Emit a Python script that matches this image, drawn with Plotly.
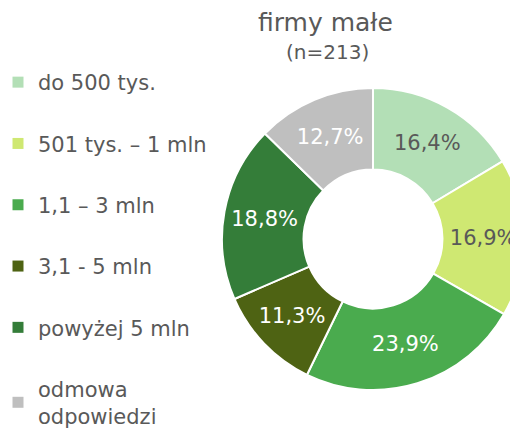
import plotly.graph_objects as go

categories = ["do 500 tys.", "501 tys. – 1 mln", "1,1 – 3 mln", "3,1 - 5 mln",
              "powyżej 5 mln", "odmowa<br>odpowiedzi"]
values = [16.4, 16.9, 23.9, 11.3, 18.8, 12.7]
colors = ["#b3dfb6", "#cfe872", "#4aab4e", "#4e6313", "#347d39", "#bfbfbf"]
text_colors = ["#595959", "#595959", "#ffffff", "#ffffff", "#ffffff", "#ffffff"]
title_main = "firmy małe"
title_sub = "(n=213)"

FONT = "DejaVu Sans"
W, H = 518, 432

fig = go.Figure()

fig.add_trace(go.Pie(
    labels=categories,
    values=values,
    sort=False,
    direction="clockwise",
    rotation=0,
    hole=0.46,
    marker=dict(colors=colors, line=dict(color="#ffffff", width=2)),
    texttemplate="%{percent:.1%}",
    textposition="inside",
    insidetextorientation="horizontal",
    textfont=dict(family=FONT, size=21, color=text_colors),
    showlegend=False,
    hoverinfo="skip",
    domain=dict(x=[214 / W, 516 / W], y=[(H - 382) / H, (H - 80) / H]),
))

for cat, col in zip(categories, colors):
    fig.add_trace(go.Scatter(
        x=[None], y=[None], mode="markers", name=cat,
        legendgroup=cat,
        marker=dict(symbol="square", size=11, color=col),
    ))

fig.add_annotation(text=title_main, x=317 / W, y=1 - 14 / H, xref="paper", yref="paper",
                   xanchor="center", yanchor="middle",
                   showarrow=False, font=dict(family=FONT, size=25, color="#595959"))
fig.add_annotation(text=title_sub, x=319 / W, y=1 - 44 / H, xref="paper", yref="paper",
                   xanchor="center", yanchor="middle",
                   showarrow=False, font=dict(family=FONT, size=20, color="#595959"))

fig.update_layout(
    width=W, height=H,
    margin=dict(l=0, r=0, t=0, b=0, autoexpand=False),
    paper_bgcolor="white", plot_bgcolor="white",
    separators=", ",
    xaxis=dict(visible=False), yaxis=dict(visible=False),
    legend=dict(
        x=-10 / W, y=1 - 54 / H, xanchor="left", yanchor="top",
        font=dict(family=FONT, size=21, color="#595959"),
        tracegroupgap=31, itemwidth=30,
        bgcolor="rgba(0,0,0,0)",
    ),
)

fig.write_html("out.html")
